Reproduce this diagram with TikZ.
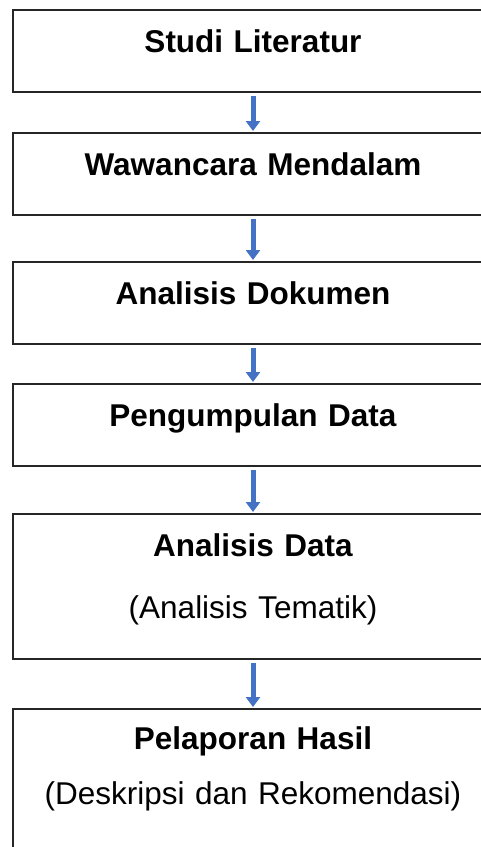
\documentclass[tikz,border=0pt]{standalone}
\usepackage{fontspec}
\setmainfont{Liberation Sans}
\usetikzlibrary{positioning,arrows.meta}
\definecolor{flowblue}{HTML}{4472C4}
\tikzset{stage/.style={draw=black!85, line width=1.8pt, outer sep=0pt, inner sep=0pt,
  text width=480pt, align=center, text height=42pt, text depth=40pt,
  font=\fontsize{31.5}{38}\selectfont}}
\tikzset{flow/.style={->, draw=flowblue, line width=5pt, shorten <=4pt, shorten >=2pt}}

\begin{document}
\begin{tikzpicture}[>={Triangle[length=10pt,width=14pt]}]
  \useasboundingbox (0,0) rectangle (480pt,-847pt);
  \node[stage, anchor=north] (lit) at (253pt,-10pt) {\textbf{Studi Literatur}};
  \node[stage]          (wawancara) [below=41pt of lit]       {\textbf{Wawancara Mendalam}};
  \node[stage]          (dokumen)   [below=47pt of wawancara] {\textbf{Analisis Dokumen}};
  \node[stage]          (kumpul)    [below=40pt of dokumen]   {\textbf{Pengumpulan Data}};
  \node[stage, text depth=103pt] (analisis) [below=48pt of kumpul]
        {\textbf{Analisis Data}\\[24pt](Analisis Tematik)};
  \node[stage, text height=40pt, text depth=105pt] (lapor) [below=50pt of analisis]
        {\textbf{Pelaporan Hasil}\\[17pt](Deskripsi dan Rekomendasi)};
  % alur tahapan
  \draw[flow] (lit)       -- (wawancara);
  \draw[flow] (wawancara) -- (dokumen);
  \draw[flow] (dokumen)   -- (kumpul);
  \draw[flow] (kumpul)    -- (analisis);
  \draw[flow] (analisis)  -- (lapor);
\end{tikzpicture}
\end{document}
